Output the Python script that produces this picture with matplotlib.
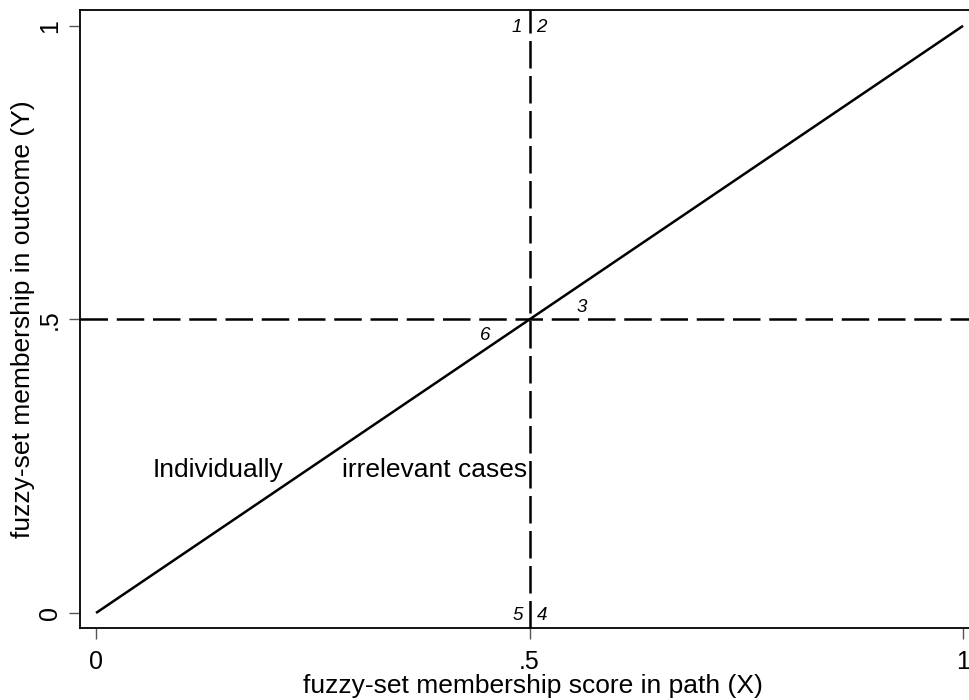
import matplotlib.pyplot as plt

plt.rcParams['font.family'] = ['Liberation Sans', 'DejaVu Sans']

# region DATA
diag_x = [0, 1]
diag_y = [0, 1]
cut_x = 0.5
cut_y = 0.5
tick_vals = [0, 0.5, 1]
tick_labels = ["0", ".5", "1"]

case_labels = ["1", "2", "3", "4", "5", "6"]
case_x = [0.491, 0.508, 0.554, 0.509, 0.492, 0.4545]
case_y = [0.997, 0.997, 0.521, -0.004, -0.004, 0.472]
case_ha = ["right", "left", "left", "left", "right", "right"]
# endregion

fig = plt.figure(figsize=(9.7, 7.0), dpi=100)
ax = fig.add_axes([80 / 970, 1 - 628 / 700, 890 / 970, 618 / 700])

ax.plot(diag_x, diag_y, color='black', linewidth=1.8, solid_capstyle='butt')
ax.axvline(cut_x, color='black', linewidth=1.8, dashes=(11, 3))
ax.axhline(cut_y, color='black', linewidth=1.8, dashes=(11, 3.5))

for lab, x, y, ha in zip(case_labels, case_x, case_y, case_ha):
    ax.text(x, y, lab, ha=ha, va='center', fontsize=13.5, style='italic')

ax.text(0.141, 0.2436, "Individually", ha='center', va='center', fontsize=19)
ax.text(0.497, 0.2436, "irrelevant cases", ha='right', va='center', fontsize=19)

ax.set_xlim(-0.0185, 1.008)
ax.set_ylim(-0.0256, 1.027)
ax.set_xticks(tick_vals)
ax.set_xticklabels(tick_labels)
ax.set_yticks(tick_vals)
ax.set_yticklabels(tick_labels, rotation=90, va='center')
ax.tick_params(direction='out', length=8, width=1, color='#555555', labelsize=18)
ax.tick_params(axis='x', pad=8)
ax.tick_params(axis='y', pad=5)

ax.spines['right'].set_visible(False)
for s in ['left', 'top', 'bottom']:
    ax.spines[s].set_linewidth(1.3)

ax.set_xlabel("fuzzy-set membership score in path (X)", fontsize=19)
ax.set_ylabel("fuzzy-set membership in outcome (Y)", fontsize=19)
ax.xaxis.set_label_coords(0.509, -0.074)
ax.yaxis.set_label_coords(-0.05, 0.5)

plt.savefig("out.png", dpi=100)
